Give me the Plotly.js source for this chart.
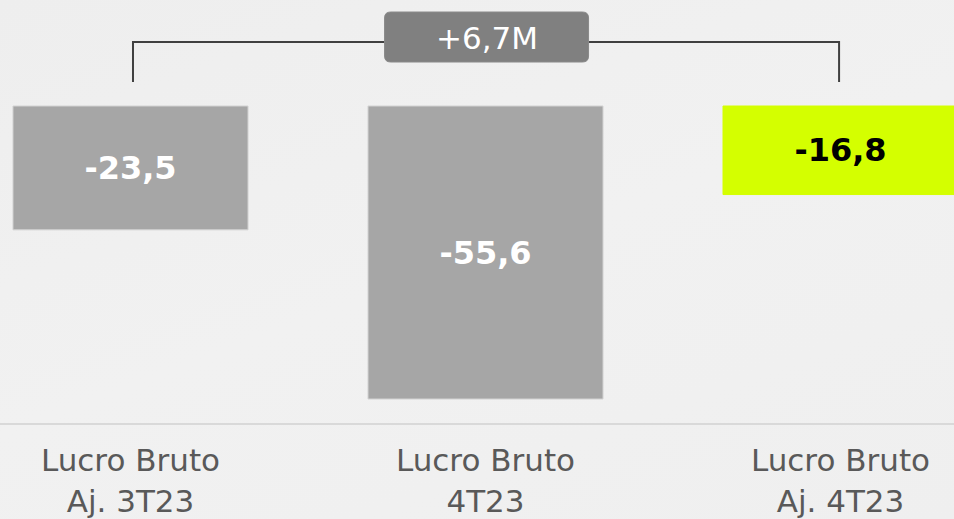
<!DOCTYPE html>
<html>
<head>
<meta charset="utf-8">
<script src="https://cdn.plot.ly/plotly-3.0.1.min.js"></script>
<style>
html,body{margin:0;padding:0;}
body{width:954px;height:519px;overflow:hidden;background:linear-gradient(160deg,#eeeeee 0%,#f1f1f1 50%,#efefef 100%);}
#chart{width:954px;height:519px;}
</style>
</head>
<body>
<div id="chart"></div>
<script>
const categories = ['Lucro Bruto<br>Aj. 3T23', 'Lucro Bruto<br>4T23', 'Lucro Bruto<br>Aj. 4T23'];
const values = [-23.5, -55.6, -16.8];
const barColors = ['#a6a6a6', '#a6a6a6', '#d4ff00'];
const textColors = ['#ffffff', '#ffffff', '#000000'];
const edgeColors = ['#d2d2d2', '#d2d2d2', '#d4ff00'];
const deltaLabel = '+6,7M';

const FONT = 'Verdana, "DejaVu Sans", sans-serif';
const pxPerUnit = 5.27;
const zeroPx = 106;
const plotH = 423;
const yTop = zeroPx / pxPerUnit;
const yBot = -(plotH - zeroPx) / pxPerUnit;
const bracketY = (zeroPx - 42) / pxPerUnit;
const bracketFoot = (zeroPx - 82) / pxPerUnit;

const trace = {
  type: 'bar',
  x: categories,
  y: values,
  width: 0.662,
  marker: {color: barColors, line: {color: edgeColors, width: 1}},
  texttemplate: '%{y:.1f}',
  textposition: 'inside',
  insidetextanchor: 'middle',
  textangle: 0,
  insidetextfont: {family: FONT, size: 32, color: textColors, weight: 'bold'},
  hoverinfo: 'none',
  cliponaxis: false
};

const layout = {
  width: 954, height: 519,
  margin: {l: 0, r: 0, t: 0, b: 519 - plotH, pad: 0},
  paper_bgcolor: 'rgba(0,0,0,0)',
  plot_bgcolor: 'rgba(0,0,0,0)',
  separators: ',.',
  showlegend: false,
  font: {family: FONT},
  xaxis: {
    type: 'category',
    range: [-130.5 / 355, (954 - 130.5) / 355],
    showgrid: false, zeroline: false,
    showline: true, linecolor: '#d9d9d9', linewidth: 2,
    ticks: '',
    tickfont: {family: FONT, size: 31, color: '#595959'},
    ticklabelstandoff: 9,
    fixedrange: true
  },
  yaxis: {
    range: [yBot, yTop],
    showgrid: false, zeroline: false, showline: false,
    showticklabels: false, ticks: '', fixedrange: true
  },
  shapes: [
    {type: 'path', xref: 'x', yref: 'y',
     path: `M 0.007,${bracketFoot} L 0.007,${bracketY} L 1.996,${bracketY} L 1.996,${bracketFoot}`,
     line: {color: '#404040', width: 2}},
    {type: 'path', xref: 'x', yref: 'y', xsizemode: 'pixel', ysizemode: 'pixel',
     xanchor: 1.003, yanchor: bracketY,
     path: 'M -96,30 L 96,30 Q 102,30 102,24 L 102,-14 Q 102,-20 96,-20 L -96,-20 Q -102,-20 -102,-14 L -102,24 Q -102,30 -96,30 Z',
     fillcolor: '#808080', line: {color: '#8a8a8a', width: 1}}
  ],
  annotations: [
    {xref: 'x', yref: 'y', x: 1.003, y: bracketY, yshift: 4, text: deltaLabel, showarrow: false,
     font: {family: FONT, size: 31, color: '#ffffff'}, xanchor: 'center', yanchor: 'middle'}
  ]
};

Plotly.newPlot('chart', [trace], layout, {displayModeBar: false, staticPlot: true});
</script>
</body>
</html>
